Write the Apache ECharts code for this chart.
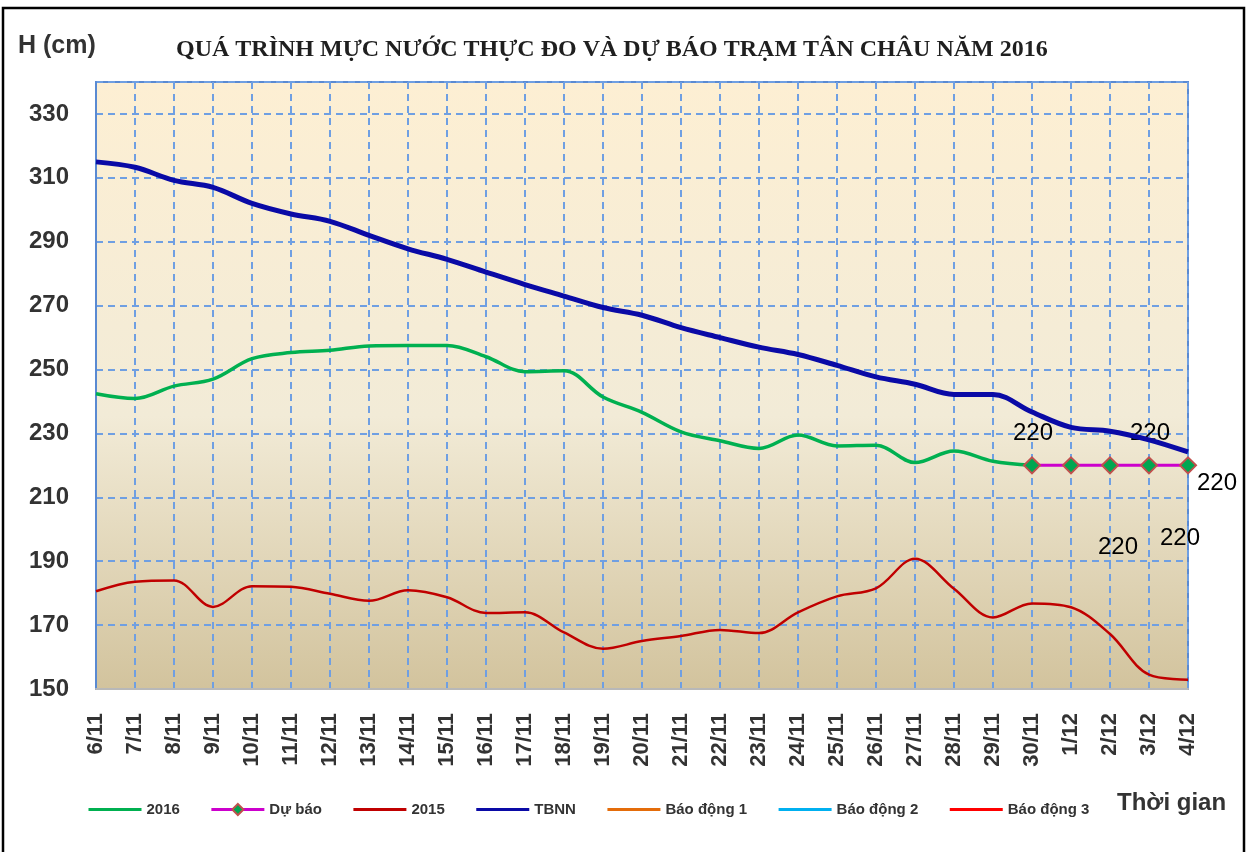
<!DOCTYPE html>
<html>
<head>
<meta charset="utf-8">
<script src="https://cdn.jsdelivr.net/npm/echarts@6/dist/echarts.min.js"></script>
<style>
html,body{margin:0;padding:0;background:#fff;}
#chart{width:1249px;height:852px;}
</style>
</head>
<body>
<div id="chart"></div>
<script>
// ---------- DATA ----------
const categories = ['6/11','7/11','8/11','9/11','10/11','11/11','12/11','13/11','14/11','15/11',
  '16/11','17/11','18/11','19/11','20/11','21/11','22/11','23/11','24/11','25/11',
  '26/11','27/11','28/11','29/11','30/11','1/12','2/12','3/12','4/12'];
const obs2016 = [242.4, 240.9, 244.8, 247, 253.4, 255.3, 256, 257.4, 257.5, 257.5,
  254, 249.3, 249.6, 241.4, 236.6, 230.5, 227.7, 225.3, 229.5, 226.1,
  226.3, 220.9, 224.5, 221.3, 220];
const forecastDates = ['30/11','1/12','2/12','3/12','4/12'];
const forecast = [220, 220, 220, 220, 220];
const y2015 = [180.6, 183.6, 184, 175.7, 182.2, 182, 179.8, 177.6, 180.9, 178.7,
  173.8, 174, 167.7, 162.6, 165, 166.6, 168.5, 167.5, 174, 179,
  181.5, 190.8, 181.4, 172.4, 176.8, 175.6, 167.2, 154.5, 152.9];
const tbnn = [315, 313.3, 309.2, 307, 302, 298.7, 296.4, 292, 287.8, 284.5,
  280.5, 276.6, 273, 269.4, 267, 263.1, 260, 257, 254.7, 251.3,
  247.7, 245.4, 242.2, 242.2, 236.7, 231.9, 230.7, 228, 224.2];
const alarm1 = [];
const alarm2 = [];
const alarm3 = [];
const yTicks = [150, 170, 190, 210, 230, 250, 270, 290, 310, 330];

// ---------- BUILD ----------
const pad = (arr) => categories.map((c, i) => (i < arr.length ? arr[i] : '-'));
const labelOffsets = [[1, -32], [47, 82], [70, 73], [1, -32], [29, 18]];
const forecastSeries = categories.map(c => {
  const k = forecastDates.indexOf(c);
  if (k < 0) return '-';
  return { value: forecast[k], label: { offset: labelOffsets[k] } };
});

const FONT = '"Liberation Sans", Arial, sans-serif';
const chart = echarts.init(document.getElementById('chart'), null, { renderer: 'canvas' });

const noMarker = { opacity: 0 };
const option = {
  animation: false,
  backgroundColor: '#ffffff',
  title: {
    text: 'QUÁ TRÌNH MỰC NƯỚC THỰC ĐO VÀ DỰ BÁO TRẠM TÂN CHÂU NĂM 2016',
    left: 171, top: 33,
    textStyle: { fontFamily: '"Liberation Serif", "Times New Roman", serif', fontWeight: 'bold', fontSize: 24, color: '#1f1f1f' }
  },
  graphic: [
    { type: 'rect', silent: true, z: 100,
      shape: { x: 3, y: 8, width: 1241, height: 870 },
      style: { fill: 'none', stroke: '#000', lineWidth: 2.5 } },
    { type: 'text', left: 18, top: 34, z: 100,
      style: { text: 'H (cm)', font: 'bold 25px ' + FONT, fill: '#333' } },
    { type: 'text', left: 1117, top: 791, z: 100,
      style: { text: 'Thời gian', font: 'bold 24px ' + FONT, fill: '#333' } }
  ],
  legend: {
    left: 82, top: 797,
    itemWidth: 53, itemHeight: 14, itemGap: 30, itemTextGap: 5,
    lineStyle: { width: 3 },
    textStyle: { fontFamily: FONT, fontWeight: 'bold', fontSize: 15, color: '#333' },
    data: [
      { name: '2016', itemStyle: noMarker },
      { name: 'Dự báo' },
      { name: '2015', itemStyle: noMarker },
      { name: 'TBNN', itemStyle: noMarker },
      { name: 'Báo động 1', itemStyle: noMarker },
      { name: 'Báo động 2', itemStyle: noMarker },
      { name: 'Báo động 3', itemStyle: noMarker }
    ]
  },
  grid: {
    left: 96, right: 61, top: 82, bottom: 163,
    show: true,
    borderColor: '#5a8ad2', borderWidth: 2,
    backgroundColor: {
      type: 'linear', x: 0, y: 0, x2: 0, y2: 1,
      colorStops: [
        { offset: 0, color: '#fdefd3' },
        { offset: 0.55, color: '#f2ebd7' },
        { offset: 1, color: '#d2c39d' }
      ]
    }
  },
  xAxis: {
    type: 'category', data: categories, boundaryGap: false,
    axisLine: { show: true, lineStyle: { color: '#b8b8b8', width: 2 } },
    axisTick: { show: false },
    axisLabel: {
      rotate: 90, interval: 0, margin: 24,
      fontFamily: FONT, fontWeight: 'bold', fontSize: 22, color: '#333'
    },
    splitLine: { show: true, interval: 0, lineStyle: { color: '#6f9fe2', width: 2, type: [7, 5] } }
  },
  yAxis: {
    type: 'value', min: yTicks[0], max: 340, interval: yTicks[1] - yTicks[0],
    axisLine: { show: true, lineStyle: { color: '#5a8ad2', width: 2 } },
    axisTick: { show: false },
    axisLabel: {
      showMaxLabel: false, margin: 27,
      fontFamily: FONT, fontWeight: 'bold', fontSize: 24, color: '#333',
      formatter: v => (yTicks.indexOf(v) >= 0 ? String(v) : '')
    },
    splitLine: { show: true, lineStyle: { color: '#6f9fe2', width: 2, type: [7, 5] } }
  },
  series: [
    { name: '2016', type: 'line', data: pad(obs2016), smooth: 0.35, showSymbol: false, symbol: 'none',
      lineStyle: { color: '#00b050', width: 3.5 }, itemStyle: { color: '#00b050' }, z: 3 },
    { name: 'Dự báo', type: 'line', data: forecastSeries, smooth: false,
      symbol: 'diamond', symbolSize: 16, showSymbol: true,
      lineStyle: { color: '#cc00cc', width: 3 },
      itemStyle: { color: '#00a651', borderColor: '#c0504d', borderWidth: 2 },
      label: { show: true, position: 'inside', color: '#000', fontFamily: FONT, fontSize: 24,
        formatter: p => String(p.value) },
      z: 4 },
    { name: '2015', type: 'line', data: y2015, smooth: 0.35, showSymbol: false, symbol: 'none',
      lineStyle: { color: '#c00000', width: 2.5 }, itemStyle: { color: '#c00000' }, z: 2 },
    { name: 'TBNN', type: 'line', data: tbnn, smooth: 0.35, showSymbol: false, symbol: 'none',
      lineStyle: { color: '#0a0aa6', width: 5 }, itemStyle: { color: '#0a0aa6' }, z: 5 },
    { name: 'Báo động 1', type: 'line', data: alarm1, symbol: 'none',
      lineStyle: { color: '#e46c0a', width: 3 }, itemStyle: { color: '#e46c0a' } },
    { name: 'Báo động 2', type: 'line', data: alarm2, symbol: 'none',
      lineStyle: { color: '#00b0f0', width: 3 }, itemStyle: { color: '#00b0f0' } },
    { name: 'Báo động 3', type: 'line', data: alarm3, symbol: 'none',
      lineStyle: { color: '#ff0000', width: 3 }, itemStyle: { color: '#ff0000' } }
  ]
};
chart.setOption(option);
</script>
</body>
</html>
